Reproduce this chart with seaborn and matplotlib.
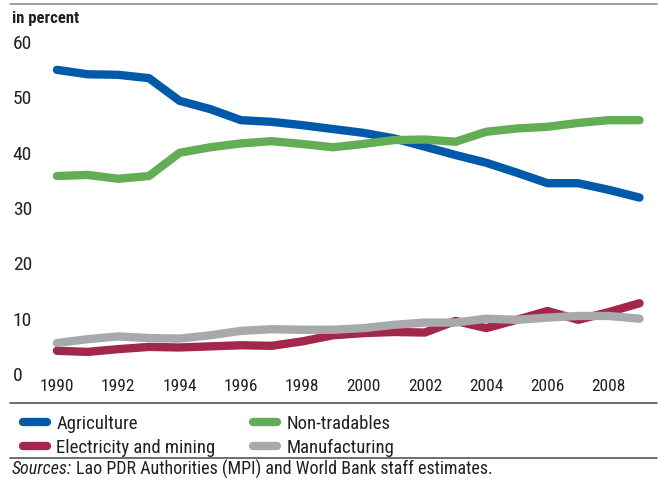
import pandas as pd
import numpy as np
import matplotlib
matplotlib.use('Agg')
import matplotlib.pyplot as plt
from matplotlib.lines import Line2D
import seaborn as sns

# Data (share in percent)
years = list(range(1990, 2010))
agriculture = [55.0, 54.2, 54.1, 53.5, 49.4, 47.9, 45.9, 45.6, 45.0, 44.3,
               43.6, 42.6, 41.1, 39.6, 38.2, 36.4, 34.5, 34.5, 33.3, 31.9]
non_tradables = [35.8, 36.0, 35.3, 35.8, 40.0, 41.0, 41.7, 42.1, 41.6, 41.0,
                 41.6, 42.3, 42.4, 42.0, 43.8, 44.4, 44.7, 45.4, 45.9, 45.9]
electricity_mining = [4.2, 4.0, 4.5, 4.9, 4.8, 5.0, 5.2, 5.1, 5.9, 7.0,
                      7.4, 7.6, 7.5, 9.6, 8.3, 9.8, 11.4, 9.8, 11.2, 12.8]
manufacturing = [5.6, 6.3, 6.8, 6.5, 6.4, 7.0, 7.8, 8.1, 8.0, 8.0,
                 8.3, 8.9, 9.3, 9.3, 10.0, 9.8, 10.2, 10.5, 10.5, 10.0]

sectors = ['Agriculture', 'Electricity and mining', 'Non-tradables', 'Manufacturing']
colors = ['#0059a9', '#a3264b', '#63ad55', '#a7a9ac']
yticks = [0, 10, 20, 30, 40, 50, 60]
xticks = list(range(1990, 2010, 2))

df = pd.DataFrame({
    'year': years * 4,
    'value': agriculture + electricity_mining + non_tradables + manufacturing,
    'sector': [s for s in sectors for _ in years],
})

sns.set_style('white')
plt.rcParams['font.family'] = ['Roboto Condensed', 'DejaVu Sans']
plt.rcParams['lines.solid_capstyle'] = 'round'
plt.rcParams['lines.solid_joinstyle'] = 'round'
txt = '#231f20'

fig = plt.figure(figsize=(6.68, 4.8), dpi=100)
ax = fig.add_axes([10 / 668, (480 - 378) / 480, 647 / 668, 343 / 480])

sns.lineplot(data=df, x='year', y='value', hue='sector', hue_order=sectors,
             palette=colors, linewidth=6, legend=False, ax=ax)

ax.set_xlim(1988.47, 2009.57)
ax.set_ylim(-0.72, 61.3)
ax.set_xticks(xticks)
ax.set_yticks(yticks)
ax.set_xticklabels([str(x) for x in xticks])
ax.set_yticklabels([str(y) for y in yticks])
ax.tick_params(axis='x', length=0, pad=1, labelsize=12.5, colors=txt)
ax.tick_params(axis='y', length=0, pad=-2, labelsize=14, colors=txt)
for lbl in ax.get_yticklabels():
    lbl.set_horizontalalignment('left')
ax.set_xlabel('')
ax.set_ylabel('')
for sp in ax.spines.values():
    sp.set_visible(False)
ax.patch.set_alpha(0)

fig.text(12 / 668, 1 - 18 / 480, 'in percent', fontsize=12, fontweight='bold',
         color=txt, va='center', ha='left')

# rules
for ypx, col in [(4, '#8c8c8c'), (403, '#555555'), (458, '#555555')]:
    fig.add_artist(Line2D([10 / 668, 657 / 668], [1 - ypx / 480, 1 - ypx / 480],
                          color=col, linewidth=1.2, transform=fig.transFigure))

handles = [Line2D([0], [0], color=c, linewidth=6, solid_capstyle='round') for c in colors]
leg = fig.legend(handles, sectors, loc='upper left', bbox_to_anchor=(23 / 668, 1 - 415 / 480),
                 ncol=2, frameon=False, fontsize=13.5, handlelength=1.28, handletextpad=0.5,
                 columnspacing=2.0, labelspacing=0.3, borderaxespad=0, borderpad=0)
for t in leg.get_texts():
    t.set_color(txt)

s1 = fig.text(12 / 668, 1 - 469 / 480, 'Sources:', fontsize=13, style='italic',
              color=txt, va='center', ha='left')
fig.canvas.draw()
bb = s1.get_window_extent()
fig.text(bb.x1 / 668 + 4 / 668, 1 - 469 / 480,
         'Lao PDR Authorities (MPI) and World Bank staff estimates.',
         fontsize=13, color=txt, va='center', ha='left')

fig.savefig('out.png', dpi=100)
